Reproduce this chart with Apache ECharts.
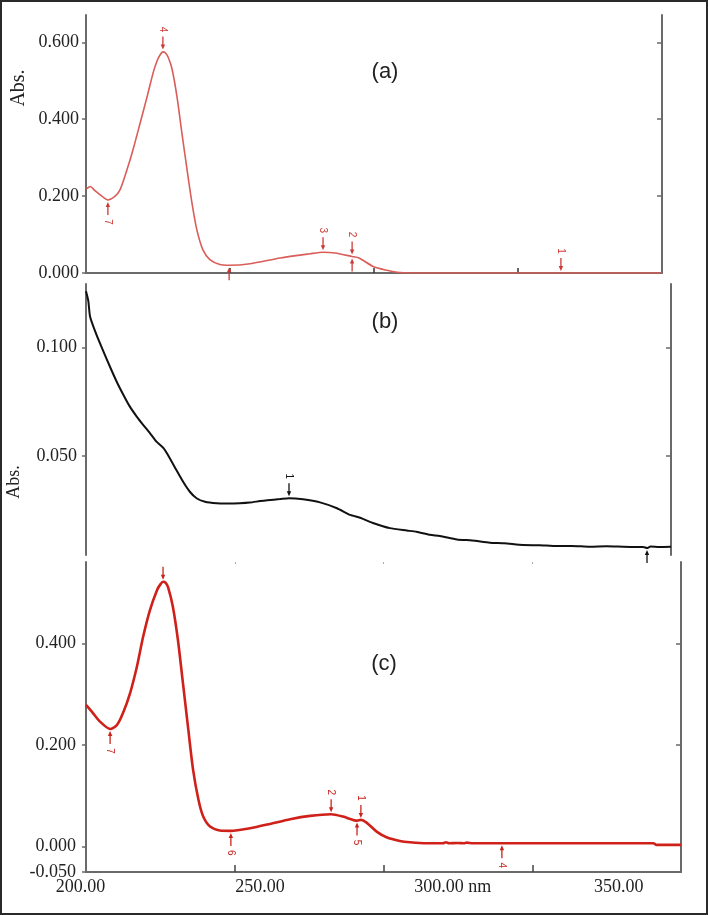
<!DOCTYPE html>
<html><head><meta charset="utf-8">
<script src="https://cdn.jsdelivr.net/npm/echarts@6/dist/echarts.min.js"></script>
<style>
html,body{margin:0;padding:0;background:#fff;}
#chart{position:absolute;left:0;top:0;width:708px;height:915px;}
#frame{position:absolute;left:0;top:0;width:708px;height:915px;box-sizing:border-box;border:2px solid #2a2a2a;pointer-events:none;}
</style></head>
<body><div id="chart"></div><div id="frame"></div>
<script>
// ---------- data (wavelength nm, absorbance) ----------
const waveA = [200, 201.5, 203.1, 205.5, 207.6, 210, 211.8, 214.2, 216.3, 218.8, 221.2, 223.4, 224.7, 225.7, 226.7, 227.6, 228.6, 229.9, 231.6, 233.3, 235.1, 236.8, 238.5, 240.6, 243, 246.5, 249.7, 257, 267.4, 277.8, 282.3, 286.5, 292.4, 294.8, 299.7, 304.5, 308, 312.5, 360, 400];
const absA  = [0.218, 0.225, 0.214, 0.200, 0.190, 0.199, 0.216, 0.268, 0.320, 0.390, 0.458, 0.523, 0.552, 0.567, 0.575, 0.572, 0.560, 0.530, 0.458, 0.364, 0.268, 0.182, 0.112, 0.060, 0.035, 0.022, 0.020, 0.024, 0.039, 0.050, 0.054, 0.052, 0.043, 0.039, 0.017, 0.007, 0.002, 0, 0, 0];

const waveB = [200, 200.8, 201.4, 203.6, 205.8, 208.2, 210.5, 212.8, 215, 217.4, 219.6, 221.9, 224.1, 226.5, 228.7, 230.9, 233.2, 235.5, 237.8, 240.7, 244.7, 248, 252.6, 256, 259.5, 262, 266.3, 269.4, 274.2, 280, 285.8, 290.3, 293.7, 298.1, 303.9, 309.7, 313, 317.6, 321, 326.8, 332, 338.1, 343, 349.4, 355, 361, 366, 372.3, 378, 383.6, 388, 390.5, 391.8, 393, 396, 400];
const absB  = [0.1260, 0.1215, 0.1143, 0.1059, 0.0988, 0.0912, 0.0843, 0.0782, 0.0728, 0.0681, 0.0643, 0.0605, 0.0566, 0.0536, 0.0489, 0.0435, 0.0381, 0.0335, 0.0305, 0.0289, 0.0282, 0.0281, 0.0282, 0.0285, 0.0292, 0.0296, 0.0301, 0.0305, 0.0300, 0.0286, 0.0259, 0.0228, 0.0215, 0.0191, 0.0167, 0.0156, 0.0150, 0.0136, 0.0131, 0.0115, 0.0110, 0.0100, 0.0097, 0.0089, 0.0088, 0.0084, 0.0085, 0.0081, 0.0083, 0.0081, 0.0080, 0.0080, 0.0075, 0.0082, 0.0080, 0.0081];

const waveC = [200, 202.4, 204.7, 208.1, 210.4, 212.4, 214.8, 217.1, 219.2, 221.5, 223.9, 225, 225.9, 226.8, 227.6, 229.2, 230.9, 232.6, 234.4, 236, 237.8, 239.4, 241.7, 245, 248.7, 255.1, 261.8, 268.6, 275.3, 282.4, 286.4, 291.1, 292.4, 294.3, 297.7, 301, 305.5, 308.9, 314.5, 320, 321, 322, 325, 327, 328, 330, 340, 352.6, 390.7, 391.8, 400];
const absC  = [0.2787, 0.2623, 0.2459, 0.2315, 0.2393, 0.2623, 0.3017, 0.354, 0.413, 0.4655, 0.505, 0.516, 0.521, 0.519, 0.510, 0.472, 0.4065, 0.321, 0.2295, 0.151, 0.092, 0.059, 0.0393, 0.0315, 0.0309, 0.0361, 0.0446, 0.0539, 0.0604, 0.0636, 0.059, 0.0511, 0.0525, 0.0472, 0.0295, 0.0185, 0.0112, 0.0086, 0.0066, 0.0066, 0.0085, 0.0066, 0.0072, 0.0066, 0.0078, 0.0066, 0.0066, 0.0066, 0.0066, 0.0033, 0.0033];

// annotation markers: [nm, absorbance, label, side]
const marksA = [[207.6, 0.190, '7', 'up'], [226.7, 0.576, '4', 'down'], [249.7, 0.020, '', 'up'], [282.3, 0.054, '3', 'down'], [292.4, 0.043, '2', 'down'], [292.4, 0.043, '', 'up'], [364.9, 0, '1', 'down']];
const marksB = [[269.4, 0.0305, '1', 'down'], [391.8, 0.0075, '', 'up']];
const marksC = [[208.1, 0.2315, '7', 'up'], [225.9, 0.521, '', 'down'], [248.7, 0.0309, '6', 'up'], [282.4, 0.0636, '2', 'down'], [292.4, 0.0525, '1', 'down'], [291.1, 0.0511, '5', 'up'], [339.8, 0.0066, '4', 'up']];

// tick values
const yTicksA = [0, 0.2, 0.4, 0.6];
const yTicksB = [0.05, 0.1];
const yTicksC = [-0.05, 0, 0.2, 0.4];
const xTicks = [250, 300, 350];
const xLabels = [200, 250, 300, 350];

// ---------- chart ----------
const chart = echarts.init(document.getElementById('chart'), null, {renderer: 'canvas'});
const axisGray = '#6a6a6a';
const serif = 'Liberation Serif';
const zip = (xs, ys) => xs.map((x, i) => [x, ys[i]]);

function yLeft(grid, min, max, ticks, margin) {
  return {
    type: 'value', gridIndex: grid, position: 'left', min: min, max: max,
    axisLine: {show: true, onZero: false, lineStyle: {color: axisGray, width: 2}},
    axisTick: {show: true, inside: false, length: 4, lineStyle: {color: axisGray, width: 1.5}, customValues: ticks},
    axisLabel: {show: true, customValues: ticks, margin: margin, fontFamily: serif, fontSize: 18, color: '#222',
      formatter: v => v.toFixed(3)},
    splitLine: {show: false}
  };
}
function yRight(grid, min, max, ticks) {
  return {
    type: 'value', gridIndex: grid, position: 'right', min: min, max: max,
    axisLine: {show: true, onZero: false, lineStyle: {color: axisGray, width: 2}},
    axisTick: {show: true, inside: true, length: 5, lineStyle: {color: axisGray, width: 1.5}, customValues: ticks},
    axisLabel: {show: false}, splitLine: {show: false}
  };
}

function annotSeries(marks, xi, yi, color) {
  return {
    type: 'custom', xAxisIndex: xi, yAxisIndex: yi, clip: false, z: 5, silent: true,
    data: marks.map(m => [m[0], m[1]]),
    renderItem: function (params, api) {
      const m = marks[params.dataIndex];
      const p = api.coord([m[0], m[1]]);
      const d = m[3] === 'down' ? -1 : 1;
      const gap = 2, L = 13;
      const tipY = p[1] + d * gap;
      const startY = p[1] + d * (gap + L);
      const children = [
        {type: 'line', shape: {x1: p[0], y1: startY, x2: p[0], y2: tipY + d * 3}, style: {stroke: color, lineWidth: 1.3}},
        {type: 'polygon', shape: {points: [[p[0], tipY], [p[0] - 2.2, tipY + d * 5], [p[0] + 2.2, tipY + d * 5]]}, style: {fill: color}}
      ];
      if (m[2]) {
        children.push({type: 'text', x: p[0], y: startY + d * 7, rotation: -Math.PI / 2,
          style: {text: m[2], fill: color, font: '10px "Liberation Sans"', align: 'center', verticalAlign: 'middle'}});
      }
      return {type: 'group', children: children};
    }
  };
}

const option = {
  animation: false,
  backgroundColor: '#fff',
  grid: [
    {left: 86, top: 15, width: 576, height: 258, outerBoundsMode: 'none'},
    {left: 86, top: 284, width: 585, height: 271, outerBoundsMode: 'none'},
    {left: 86, top: 562, width: 595, height: 310, outerBoundsMode: 'none'}
  ],
  xAxis: [
    {type: 'value', gridIndex: 0, min: 200, max: 400, position: 'bottom',
      axisLine: {show: true, onZero: false, lineStyle: {color: axisGray, width: 2}},
      axisTick: {show: true, inside: true, length: 5, customValues: xTicks, lineStyle: {color: '#333', width: 1.5}},
      axisLabel: {show: false}, splitLine: {show: false}},
    {type: 'value', gridIndex: 1, min: 200, max: 400, position: 'bottom',
      axisLine: {show: false, onZero: false}, axisTick: {show: false}, axisLabel: {show: false}, splitLine: {show: false}},
    {type: 'value', gridIndex: 2, min: 200, max: 400, position: 'bottom',
      axisLine: {show: true, onZero: false, lineStyle: {color: axisGray, width: 2}},
      axisTick: {show: true, inside: true, length: 7, customValues: xTicks, lineStyle: {color: '#444', width: 1.5}},
      axisLabel: {show: false}, splitLine: {show: false}},
    {type: 'value', gridIndex: 2, min: 200, max: 365.8, position: 'bottom',
      axisLine: {show: false, onZero: false}, axisTick: {show: false}, splitLine: {show: false},
      axisLabel: {show: true, customValues: xLabels, margin: 6, fontFamily: serif, fontSize: 18, color: '#222',
        padding: [0, 11, 0, 0],
        formatter: v => v === 300 ? '{p| }300.00 nm' : v.toFixed(2),
        rich: {p: {width: 27, fontFamily: serif, fontSize: 18}}}},
    {type: 'value', gridIndex: 2, min: 200, max: 400, position: 'top',
      axisLine: {show: false, onZero: false},
      axisTick: {show: true, inside: true, length: 2, customValues: xTicks, lineStyle: {color: '#aaa', width: 1}},
      axisLabel: {show: false}, splitLine: {show: false}}
  ],
  yAxis: [
    yLeft(0, 0, 0.671, yTicksA, 7),
    yRight(0, 0, 0.671, [0.2, 0.4, 0.6]),
    yLeft(1, 0.0043, 0.1294, yTicksB, 9),
    yRight(1, 0.0043, 0.1294, yTicksB),
    yLeft(2, -0.05, 0.56, yTicksC, 10),
    yRight(2, -0.05, 0.56, [0.2, 0.4])
  ],
  series: [
    {type: 'line', name: 'a', xAxisIndex: 0, yAxisIndex: 0, data: zip(waveA, absA), showSymbol: false, smooth: 0.25,
      lineStyle: {color: '#d95d58', width: 1.6}, z: 3},
    {type: 'line', name: 'b', xAxisIndex: 1, yAxisIndex: 2, data: zip(waveB, absB), showSymbol: false, smooth: 0.2,
      lineStyle: {color: '#111', width: 2}, z: 3},
    {type: 'line', name: 'c', xAxisIndex: 2, yAxisIndex: 4, data: zip(waveC, absC), showSymbol: false, smooth: 0.25,
      lineStyle: {color: '#cf2019', width: 2.6}, z: 3},
    annotSeries(marksA, 0, 0, '#cc3a35'),
    annotSeries(marksB, 1, 2, '#111'),
    annotSeries(marksC, 2, 4, '#c8241e')
  ],
  graphic: [
    {type: 'text', x: 19, y: 88, rotation: Math.PI / 2, style: {text: 'Abs.', font: '20px "Liberation Serif"', fill: '#222', align: 'center', verticalAlign: 'middle'}},
    {type: 'text', x: 14, y: 482, rotation: Math.PI / 2, style: {text: 'Abs.', font: '18px "Liberation Serif"', fill: '#222', align: 'center', verticalAlign: 'middle'}},
    {type: 'text', x: 385, y: 72, style: {text: '(a)', font: '22px "Liberation Sans"', fill: '#222', align: 'center', verticalAlign: 'middle'}},
    {type: 'text', x: 385, y: 322, style: {text: '(b)', font: '22px "Liberation Sans"', fill: '#222', align: 'center', verticalAlign: 'middle'}},
    {type: 'text', x: 384, y: 664, style: {text: '(c)', font: '22px "Liberation Sans"', fill: '#222', align: 'center', verticalAlign: 'middle'}}
  ]
};
chart.setOption(option);
</script>
</body></html>
